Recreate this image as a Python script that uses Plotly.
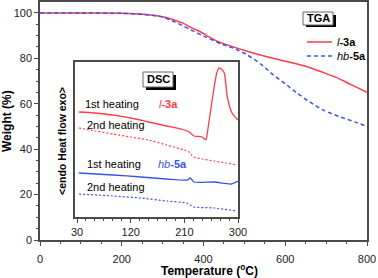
import plotly.graph_objects as go

# ---------------- data ----------------
# TGA (main plot)
tga_l3a_T = [0, 100, 200, 250, 300, 330, 350, 370, 391, 410, 433, 460, 513, 560, 611, 650, 692, 726, 760, 800]
tga_l3a_W = [100, 100, 99.8, 99.4, 98.3, 96.8, 95.5, 93.5, 91.8, 89.8, 87.6, 85.8, 82.8, 80.5, 78.3, 76.5, 73.8, 71.5, 68.5, 65]
tga_hb5a_T = [0, 100, 200, 250, 300, 330, 350, 367, 400, 447, 480, 506, 540, 570, 600, 628, 660, 692, 730, 770, 800]
tga_hb5a_W = [100, 100, 99.8, 99.4, 98.2, 96.0, 94.3, 92.7, 89.8, 86.1, 84.0, 81.6, 77.5, 72.8, 68.8, 64.8, 60.8, 57.3, 54.5, 52, 50]

# DSC (inset, arbitrary heat-flow units)
dsc_l3a_1st_T = [33, 60, 90, 120, 150, 180, 210, 218, 222, 226, 240, 246, 250, 256, 260, 264, 268, 272, 277, 282, 290, 300]
dsc_l3a_1st_v = [105, 104, 102, 99, 95, 91, 87, 85, 83, 81, 80, 77, 90, 114, 130, 143, 149, 148, 144, 120, 104, 97]
dsc_l3a_2nd_T = [33, 60, 90, 120, 150, 180, 210, 218, 222, 226, 240, 260, 280, 298]
dsc_l3a_2nd_v = [89, 86, 83, 80, 77, 72, 67, 65, 62, 60, 58, 56, 54, 52]
dsc_hb5a_1st_T = [33, 90, 137, 180, 215, 220, 226, 260, 288, 300]
dsc_hb5a_1st_v = [44, 42, 40, 38, 37, 39, 35, 35, 33, 36]
dsc_hb5a_2nd_T = [33, 90, 137, 180, 214, 220, 226, 260, 298]
dsc_hb5a_2nd_v = [23, 21, 19, 16, 14, 12, 10, 9, 6]

main_xticks = [0, 200, 400, 600, 800]
main_yticks = [0, 20, 40, 60, 80, 100]
inset_xticks = [30, 120, 210, 300]

RED = '#ff3b48'
BLUE = '#3a52ec'
AX = '#4a4a4a'
FONT = 'Liberation Sans, Arial, sans-serif'

# pixel -> paper helpers (plot area: x 40..367, y 2..240)
L, R, T, B = 40, 367, 2, 240
def px(x):
    return (x - L) / (R - L)
def py(y):
    return (B - y) / (B - T)

fig = go.Figure()

fig.add_trace(go.Scatter(x=tga_l3a_T, y=tga_l3a_W, mode='lines', line=dict(color=RED, width=1.5, shape='spline', smoothing=0.6), showlegend=False))
fig.add_trace(go.Scatter(x=tga_hb5a_T, y=tga_hb5a_W, mode='lines', line=dict(color=BLUE, width=1.5, dash='4px,3px', shape='spline', smoothing=0.6), showlegend=False))

fig.add_trace(go.Scatter(x=dsc_l3a_1st_T, y=dsc_l3a_1st_v, mode='lines', xaxis='x2', yaxis='y2', line=dict(color=RED, width=1.3, shape='spline', smoothing=0.6), showlegend=False))
fig.add_trace(go.Scatter(x=dsc_l3a_2nd_T, y=dsc_l3a_2nd_v, mode='lines', xaxis='x2', yaxis='y2', line=dict(color=RED, width=1.2, dash='2px,2px', shape='spline', smoothing=0.6), showlegend=False))
fig.add_trace(go.Scatter(x=dsc_hb5a_1st_T, y=dsc_hb5a_1st_v, mode='lines', xaxis='x2', yaxis='y2', line=dict(color=BLUE, width=1.3, shape='spline', smoothing=0.6), showlegend=False))
fig.add_trace(go.Scatter(x=dsc_hb5a_2nd_T, y=dsc_hb5a_2nd_v, mode='lines', xaxis='x2', yaxis='y2', line=dict(color=BLUE, width=1.2, dash='2px,2px', shape='spline', smoothing=0.6), showlegend=False))

shapes = []
# TGA box with shadow
shapes.append(dict(type='rect', xref='paper', yref='paper', x0=px(306), x1=px(336), y0=py(27), y1=py(15), fillcolor='black', line=dict(width=0)))
shapes.append(dict(type='rect', xref='paper', yref='paper', x0=px(303), x1=px(333), y0=py(25), y1=py(12), fillcolor='white', line=dict(color='#666', width=1)))
# DSC box with shadow
shapes.append(dict(type='rect', xref='paper', yref='paper', x0=px(146), x1=px(176), y0=py(90), y1=py(75), fillcolor='black', line=dict(width=0), layer='above'))
shapes.append(dict(type='rect', xref='paper', yref='paper', x0=px(143), x1=px(173), y0=py(87), y1=py(72), fillcolor='white', line=dict(color='#666', width=1), layer='above'))
# legend keys
shapes.append(dict(type='line', xref='paper', yref='paper', x0=px(307), x1=px(332), y0=py(42), y1=py(42), line=dict(color=RED, width=1.5)))
shapes.append(dict(type='line', xref='paper', yref='paper', x0=px(307), x1=px(332), y0=py(56), y1=py(56), line=dict(color=BLUE, width=1.5, dash='4px,3px')))

ann = []
def A(text, x, y, size=11, color='black', xanchor='center', angle=0):
    ann.append(dict(text=text, x=px(x), y=py(y), xref='paper', yref='paper', showarrow=False,
                    xanchor=xanchor, yanchor='middle', textangle=angle,
                    font=dict(family=FONT, size=size, color=color)))

A('<b>TGA</b>', 318, 18.5, 11)
A('<i>l</i><b>-3a</b>', 335, 42, 11, xanchor='left')
A('<i>hb</i><b>-5a</b>', 335, 56, 11, xanchor='left')
A('<b>DSC</b>', 158, 79.5, 11)
A('1st heating', 83, 104, 11, xanchor='left')
A('<i>l</i><b>-3a</b>', 157, 104, 11, color=RED, xanchor='left')
A('2nd heating', 85, 125, 11, xanchor='left')
A('1st heating', 85, 164, 11, xanchor='left')
A('<i>hb</i><b>-5a</b>', 156, 164, 11, color=BLUE, xanchor='left')
A('2nd heating', 85, 187, 11, xanchor='left')
A('<b>&lt;endo Heat flow exo&gt;</b>', 62, 141, 10.5, angle=-90)
A('<b>Weight (%)</b>', 7, 121, 12, angle=-90)
A('<b>Temperature (<sup>o</sup>C)</b>', 209, 270, 12)

axis_common = dict(showline=True, linecolor=AX, linewidth=1.5, mirror=True, showgrid=False, zeroline=False,
                   ticks='outside', tickcolor=AX, tickwidth=1, tickfont=dict(family=FONT, size=11, color='#222'))

fig.update_layout(
    width=378, height=278,
    margin=dict(l=L, r=378 - R, t=T, b=278 - B, autoexpand=False),
    paper_bgcolor='white', plot_bgcolor='white',
    showlegend=False,
    xaxis=dict(range=[0, 800], tickvals=main_xticks, ticklen=4, ticklabelstandoff=4,
               minor=dict(dtick=50, tick0=0, ticklen=2, ticks='outside', tickcolor=AX), **axis_common),
    yaxis=dict(range=[0, 104.8], tickvals=main_yticks, ticklen=4,
               minor=dict(dtick=5, tick0=0, ticklen=2, ticks='outside', tickcolor=AX), **axis_common),
    xaxis2=dict(domain=[px(75), px(238)], anchor='y2', range=[26.6, 300], tickvals=inset_xticks, ticklen=4,
                minor=dict(dtick=15, tick0=30, ticklen=2, ticks='outside', tickcolor=AX), **axis_common),
    yaxis2=dict(domain=[py(217), py(62)], anchor='x2', range=[0, 155], showline=True, linecolor=AX, linewidth=1.5,
                mirror=True, showgrid=False, zeroline=False, ticks='', showticklabels=False),
    shapes=shapes, annotations=ann,
)

fig.write_html('out.html', config={'displayModeBar': False},
               post_script="document.body.style.margin='0';document.body.style.padding='0';")
